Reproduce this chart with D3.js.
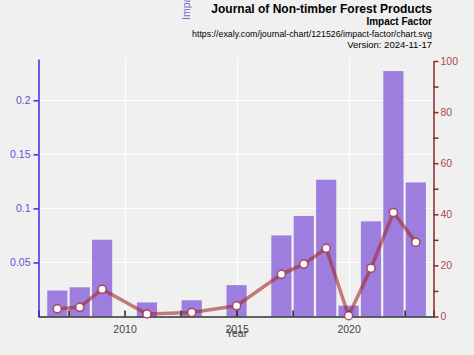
<!DOCTYPE html>
<html><head><meta charset="utf-8">
<script src="https://cdn.jsdelivr.net/npm/d3@7"></script>
<style>
html,body{margin:0;padding:0;background:#f0f0f0;}
svg{display:block;font-family:"Liberation Sans",Arial,sans-serif;}
</style></head>
<body>
<svg id="c" width="474" height="355"></svg>
<script>
const years = [2007, 2008, 2009, 2011, 2013, 2015, 2017, 2018, 2019, 2020, 2021, 2022, 2023];
const impactFactor = [0.024, 0.027, 0.071, 0.013, 0.015, 0.029, 0.075, 0.093, 0.1265, 0.010, 0.088, 0.227, 0.124];
const percentile = [3.0, 3.6, 10.7, 1.0, 1.6, 4.2, 16.5, 20.5, 26.7, 0.3, 18.9, 40.7, 29.1];
const leftTicks = [0.05, 0.1, 0.15, 0.2];
const rightTicks = [0, 10, 20, 30, 40, 50, 60, 70, 80, 90, 100];
const xTicks = [2010, 2015, 2020];
const xMinorTicks = [2007.5, 2010, 2012.5, 2015, 2017.5, 2020, 2022.5];
const titleLines = ["Journal of Non-timber Forest Products", "Impact Factor", "https://exaly.com/journal-chart/121526/impact-factor/chart.svg", "Version: 2024-11-17"];

const svg = d3.select("#c");
const L = 38.5, R = 433.5, T = 59, B = 316.5;
const x = d3.scaleLinear().domain([2006.16, 2023.79]).range([L, R]);
const yL = d3.scaleLinear().domain([0, 0.2382]).range([B, T]);
const yR = d3.scaleLinear().domain([0, 100]).range([B, 61]);
const step = x(2011) - x(2010);
const bw = step * 0.9;

// grid
const g = svg.append("g");
g.selectAll("line.h").data(leftTicks).join("line")
  .attr("x1", L).attr("x2", R).attr("y1", d => Math.round(yL(d)) + 0.5).attr("y2", d => Math.round(yL(d)) + 0.5)
  .attr("stroke", "#fff").attr("stroke-width", 1);
g.selectAll("line.v").data(xTicks).join("line")
  .attr("x1", d => Math.round(x(d)) + 0.5).attr("x2", d => Math.round(x(d)) + 0.5).attr("y1", T).attr("y2", B)
  .attr("stroke", "#fff").attr("stroke-width", 1);

// bars
svg.append("g").selectAll("rect").data(years).join("rect")
  .attr("x", (d) => x(d) - bw / 2).attr("width", bw)
  .attr("y", (d, i) => yL(impactFactor[i])).attr("height", (d, i) => B - yL(impactFactor[i]))
  .attr("fill", "#9370db").attr("fill-opacity", 0.9);

// x axis
const xa = svg.append("g").attr("transform", `translate(0,${B})`)
  .call(d3.axisBottom(x).tickValues(xMinorTicks).tickSize(-6).tickFormat(d => xTicks.includes(d) ? d : ""));
xa.select(".domain").attr("stroke", "#333").attr("stroke-width", 1.5);
xa.selectAll(".tick line").attr("stroke", "#222").attr("stroke-width", 1.5);
xa.selectAll(".tick text").attr("y", 9).attr("fill", "#444").attr("font-size", 10.5).attr("font-family", "Liberation Sans, Arial, sans-serif");

svg.append("text").attr("x", x(2015)).attr("y", 337).attr("text-anchor", "middle")
  .attr("font-size", 10.5).attr("fill", "#444").text("Year");

// left axis
const la = svg.append("g").attr("transform", `translate(${L},0)`)
  .call(d3.axisLeft(yL).tickValues(leftTicks).tickSize(5).tickPadding(3).tickSizeOuter(0).tickFormat(d => String(d)));
la.select(".domain").attr("stroke", "#5020d8").attr("stroke-width", 1.5);
la.selectAll(".tick line").attr("stroke", "#5020d8").attr("stroke-width", 1.5);
la.selectAll(".tick text").attr("fill", "#6a4fd0").attr("font-size", 10.5).attr("font-family", "Liberation Sans, Arial, sans-serif");

svg.append("text").attr("transform", "translate(190,20) rotate(-90)")
  .attr("font-size", 10.5).attr("fill", "#8060d0").text("Impact Factor");

// right axis
const ra = svg.append("g").attr("transform", `translate(${R},0)`)
  .call(d3.axisRight(yR).tickValues(rightTicks).tickSize(5).tickPadding(2).tickSizeOuter(0)
    .tickFormat(d => d % 20 === 0 ? d : ""));
ra.select(".domain").attr("stroke", "#8b2a2a").attr("stroke-width", 1.5);
ra.selectAll(".tick line").attr("stroke", "#8b2a2a").attr("stroke-width", 1.5);
ra.selectAll(".tick text").attr("fill", "#b04a4a").attr("font-size", 10.5).attr("font-family", "Liberation Sans, Arial, sans-serif");

// line
const line = d3.line().x((d, i) => x(years[i])).y(d => yR(d));
svg.append("path").datum(percentile).attr("d", line)
  .attr("fill", "none").attr("stroke", "#a52a2a").attr("stroke-opacity", 0.6).attr("stroke-width", 3.5);
svg.append("g").selectAll("circle").data(percentile).join("circle")
  .attr("cx", (d, i) => x(years[i])).attr("cy", d => yR(d)).attr("r", 4)
  .attr("fill", "#fff").attr("stroke", "#a0303c").attr("stroke-opacity", 0.8).attr("stroke-width", 1.5);

// titles
const tx = 432;
svg.append("text").attr("x", tx).attr("y", 13).attr("text-anchor", "end").attr("font-weight", "bold").attr("font-size", 12).attr("fill", "#000").text(titleLines[0]);
svg.append("text").attr("x", tx).attr("y", 25).attr("text-anchor", "end").attr("font-weight", "bold").attr("font-size", 10).attr("fill", "#000").text(titleLines[1]);
svg.append("text").attr("x", tx).attr("y", 37).attr("text-anchor", "end").attr("font-size", 8.8).attr("fill", "#000").text(titleLines[2]);
svg.append("text").attr("x", tx).attr("y", 48).attr("text-anchor", "end").attr("font-size", 9.5).attr("fill", "#000").text(titleLines[3]);
</script>
</body></html>
